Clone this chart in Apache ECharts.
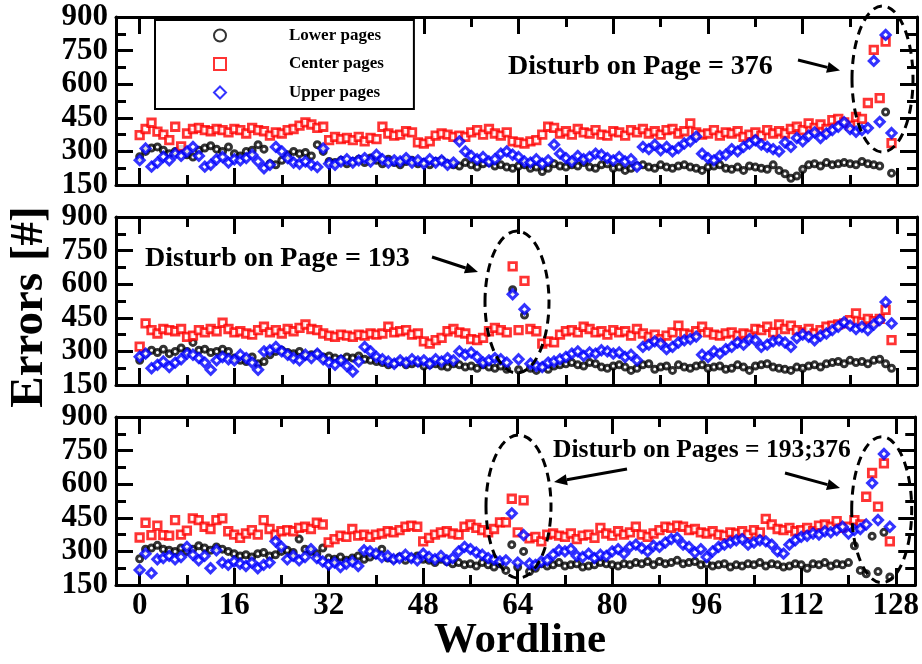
<!DOCTYPE html>
<html><head><meta charset="utf-8">
<script src="https://cdn.jsdelivr.net/npm/echarts@6/dist/echarts.min.js"></script>
<style>html,body{margin:0;padding:0;background:#fff}#c{width:922px;height:664px}</style>
</head><body><div id="c"></div>
<script>
const wordlines = [0,1,2,3,4,5,6,7,8,9,10,11,12,13,14,15,16,17,18,19,20,21,22,23,24,25,26,27,28,29,30,31,32,33,34,35,36,37,38,39,40,41,42,43,44,45,46,47,48,49,50,51,52,53,54,55,56,57,58,59,60,61,62,63,64,65,66,67,68,69,70,71,72,73,74,75,76,77,78,79,80,81,82,83,84,85,86,87,88,89,90,91,92,93,94,95,96,97,98,99,100,101,102,103,104,105,106,107,108,109,110,111,112,113,114,115,116,117,118,119,120,121,122,123,124,125,126,127];
const xTickLabels = [0,16,32,48,64,80,96,112,128];
const xMinorTicks = [8,24,40,56,72,88,104,120];
const seriesNames = ['Lower pages','Center pages','Upper pages'];

// Panel 1: Disturb on Page = 376
const p1Lower = [276,300,315,320,305,290,300,310, 285,275,305,315,325,310,300,320, 290,280,300,305,330,310,245,240, 260,285,300,290,295,280,330,300,
  255,250,260,245,255,265,250,270, 260,245,265,250,240,255,260,245, 250,240,255,260,245,240,235,250, 240,230,245,250,235,240,230,225,
  235,240,225,230,210,225,245,235, 230,240,235,250,230,225,240,245, 225,230,215,225,235,240,230,225, 240,230,225,235,240,230,225,215,
  230,235,240,225,220,230,215,235, 230,225,220,240,215,200,180,190, 220,240,245,235,250,240,245,250, 245,240,255,245,240,235,476,203];
const p1Center = [373,400,428,388,375,350,410,322, 380,400,405,395,390,400,395,385, 400,395,380,405,395,390,370,385, 380,395,400,415,430,420,405,410,
  350,365,355,360,350,365,345,360, 355,410,380,370,375,390,385,340, 335,345,370,380,375,365,370,365, 385,395,375,400,380,370,385,345,
  340,335,345,350,375,410,405,380, 390,375,400,385,380,395,375,370, 390,385,370,395,385,400,380,390, 375,395,400,380,390,425,385,375,
  380,395,370,385,380,390,365,375, 385,370,395,380,390,380,400,410, 395,425,405,420,400,440,445,430, 415,454,445,516,753,538,790,337];
const p1Upper = [261,313,232,250,276,260,290,280, 300,320,280,232,240,265,275,250, 265,260,270,285,255,225,240,320, 300,270,250,245,255,240,230,313,
  245,240,255,265,250,260,270,255, 285,265,250,260,255,270,250,260, 245,265,250,260,240,250,345,300, 280,265,275,255,265,290,300,285,
  275,255,250,265,245,260,330,290, 270,255,280,265,275,290,285,270, 260,275,255,265,232,320,310,330, 305,320,300,315,335,345,366,290,
  270,260,280,285,310,300,320,335, 350,330,320,310,300,340,320,360, 345,370,385,360,380,395,410,430, 400,388,395,404,704,432,820,382];

// Panel 2: Disturb on Page = 193
const p2Lower = [260,290,305,295,310,290,300,315, 300,340,305,310,295,300,310,300, 270,260,255,275,245,255,285,300, 305,295,290,300,280,285,290,275,
  280,270,265,275,270,280,265,260, 255,250,240,245,255,240,245,250, 235,240,245,235,230,245,240,230, 235,225,240,230,225,235,220,575,
  218,462,225,215,230,220,235,240, 245,250,240,235,250,245,230,225, 235,240,230,215,225,240,245,220, 230,235,215,240,230,225,235,240,
  225,230,235,220,225,240,230,215, 235,240,245,230,225,220,215,230, 225,235,240,230,245,250,255,245, 260,250,255,245,260,265,245,225];
const p2Center = [321,425,395,380,400,395,390,400, 365,370,395,385,400,390,428,400, 385,390,380,375,395,410,385,395, 380,400,390,405,420,400,395,380,
  370,365,375,370,365,375,370,380, 375,380,410,385,390,395,375,380, 345,335,350,360,390,400,385,380, 355,350,360,390,405,395,385,680,
  395,615,400,390,335,345,340,375, 390,395,385,410,400,385,390,375, 395,385,390,370,400,380,365,375, 355,370,385,415,380,375,390,410,
  385,375,370,380,385,370,380,375, 400,395,410,385,420,400,415,395, 385,400,380,395,410,415,420,425, 440,470,430,445,435,445,485,350];
const p2Upper = [276,290,225,240,255,230,250,265, 290,285,270,250,218,260,275,265, 260,285,270,250,218,300,305,320, 300,285,270,260,285,270,290,265,
  250,240,260,235,210,255,320,300, 275,265,255,245,260,250,265,255, 260,245,265,255,270,260,300,285, 295,275,250,260,270,265,250,555,
  265,488,245,235,230,250,255,265, 275,290,300,280,295,290,305,300, 290,295,275,285,260,320,330,345, 335,310,320,340,350,355,366,285,
  275,300,290,310,320,340,330,355, 350,320,330,345,350,340,320,360, 375,365,350,370,380,395,410,430, 415,400,410,395,420,440,520,425];

// Panel 3: Disturb on Pages = 193;376
const p3Lower = [267,310,315,327,310,305,300,315, 300,310,325,315,305,320,310,300, 290,280,285,275,290,295,280,285, 300,305,295,355,310,300,290,315,
  270,265,275,260,270,280,265,275, 285,310,270,265,275,260,270,280, 265,260,250,265,255,245,250,240, 245,235,250,240,230,245,215,330,
  230,300,210,225,245,235,240,250, 235,240,245,230,235,240,250,245, 240,235,245,240,250,245,255,240, 255,245,250,260,245,250,255,240,
  245,235,240,245,230,240,235,245, 240,250,235,245,240,230,235,245, 240,225,245,240,250,235,245,240, 250,325,215,200,368,210,385,186];
const p3Center = [362,428,373,415,373,370,440,375, 393,447,440,410,400,440,447,390, 375,360,380,395,375,440,400,375, 390,395,390,405,410,400,428,420,
  340,355,370,365,400,370,375,365, 375,380,390,385,395,410,415,410, 345,360,375,385,390,380,375,410, 420,405,395,385,400,430,430,535,
  385,528,358,365,345,375,380,370, 365,380,355,370,375,360,405,380, 370,390,375,385,410,375,365,380, 395,410,405,415,410,395,400,385,
  380,390,375,370,385,380,390,375, 395,385,445,420,400,395,405,390, 395,405,390,415,420,410,435,405, 410,440,420,544,650,500,693,345];
const p3Upper = [217,290,203,265,270,280,265,275, 320,285,260,280,225,305,250,240, 255,245,235,250,225,240,250,345, 320,265,280,260,275,310,270,255,
  240,250,230,245,255,235,305,300, 290,275,280,265,270,285,270,260, 290,275,265,280,260,270,300,320, 310,295,285,270,265,255,260,470,
  250,373,245,240,255,260,285,305, 300,310,280,275,290,270,285,280, 300,310,290,320,330,315,300,325, 320,340,355,360,330,320,295,310,
  275,300,320,330,340,350,355,330, 340,350,345,330,300,290,330,350, 365,370,380,375,390,385,395,410, 380,395,400,420,605,440,735,410];

const panels = [[p1Lower,p1Center,p1Upper],[p2Lower,p2Center,p2Upper],[p3Lower,p3Center,p3Upper]];

const FONT = "'Liberation Serif','Times New Roman',serif";
const GRID_LEFT = 116, GRID_W = 801, GRID_H = 168;
const gridTops = [17, 217, 417];
const XMIN = -4, XMAX = 131.3;

const grids = [], xAxes = [], yAxes = [], series = [];
const lineStyle = {color:'#000', width:3};
const styles = [
  {symbol:'circle', size:6, color:'#000', bw:3},
  {symbol:'rect', size:7.5, color:'#ff0000', bw:2.8},
  {symbol:'diamond', size:9, color:'#0000ff', bw:3.1}
];
gridTops.forEach((top, gi) => {
  grids.push({left: GRID_LEFT, top: top, width: GRID_W, height: GRID_H, containLabel:false});
  const base = {type:'value', gridIndex: gi, min: XMIN, max: XMAX, splitLine:{show:false}};
  xAxes.push(Object.assign({}, base, {position:'bottom',
    axisLine:{show:true, onZero:false, lineStyle},
    axisTick:{show:true, inside:true, length:17, lineStyle, customValues: xTickLabels},
    axisLabel:{show: gi===2, customValues: xTickLabels, margin:5, color:'#000', fontFamily:FONT, fontWeight:'bold', fontSize:31}}));
  xAxes.push(Object.assign({}, base, {position:'bottom',
    axisLine:{show:false, onZero:false},
    axisTick:{show:true, inside:true, length:10, lineStyle, customValues: xMinorTicks},
    axisLabel:{show:false}}));
  xAxes.push(Object.assign({}, base, {position:'top',
    axisLine:{show:true, onZero:false, lineStyle},
    axisTick:{show:true, inside:true, length:17, lineStyle, customValues: xTickLabels},
    axisLabel:{show:false}}));
  xAxes.push(Object.assign({}, base, {position:'top',
    axisLine:{show:false, onZero:false},
    axisTick:{show:true, inside:true, length:10, lineStyle, customValues: xMinorTicks},
    axisLabel:{show:false}}));
  const ybase = {type:'value', gridIndex: gi, min:150, max:900, interval:150, splitLine:{show:false},
    axisLine:{show:true, onZero:false, lineStyle},
    axisTick:{show:true, inside:true, length:17, lineStyle},
    minorTick:{show:true, splitNumber:2, length:10, lineStyle}};
  yAxes.push(Object.assign({}, ybase, {position:'left',
    axisLabel:{show:true, margin:8, color:'#000', fontFamily:FONT, fontWeight:'bold', fontSize:31}}));
  yAxes.push(Object.assign({}, ybase, {position:'right', axisLabel:{show:false}}));

  panels[gi].forEach((arr, si) => {
    const st = styles[si];
    series.push({
      type:'scatter', name: seriesNames[si], xAxisIndex: gi*4, yAxisIndex: gi*2,
      data: wordlines.map((w,i)=>[w, arr[i]]),
      symbol: st.symbol, symbolSize: st.size,
      itemStyle:{color:'#fff', borderColor: st.color, borderWidth: st.bw},
      z: 2 + si, silent:true
    });
  });
});

function arrow(x1,y1,x2,y2){
  const dx=x2-x1, dy=y2-y1, L=Math.hypot(dx,dy), ux=dx/L, uy=dy/L;
  const hl=13, hw=5.5;
  const bx=x2-ux*hl, by=y2-uy*hl;
  return [
    {type:'line', shape:{x1:x1,y1:y1,x2:bx,y2:by}, style:{stroke:'#000', lineWidth:3}, z:100},
    {type:'polygon', shape:{points:[[x2,y2],[bx-uy*hw,by+ux*hw],[bx+uy*hw,by-ux*hw]]}, style:{fill:'#000'}, z:100}
  ];
}
function ell(cx,cy,rx,ry){
  return {type:'ellipse', shape:{cx,cy,rx,ry}, style:{fill:null, stroke:'#000', lineWidth:3, lineDash:[9,6]}, z:100};
}
function txt(x,y,t,fs,align){
  return {type:'text', x:x, y:y, style:{text:t, fill:'#000', font:'bold '+fs+'px '+FONT, textAlign:align||'left', textVerticalAlign:'middle'}, z:100};
}

const graphic = [].concat(
  [txt(508,66.5,'Disturb on Page = 376',28)], arrow(798,60,840,70.5), [ell(882.5,79,30.5,73)],
  [txt(145,259,'Disturb on Page = 193',28)], arrow(432,257,478,272), [ell(517,302,32,71)],
  [txt(553,450.5,'Disturb on Pages = 193;376',25.5)], arrow(627,469,554,482), arrow(785,473,840,488),
  [ell(518.5,506.5,32.5,71.5), ell(881.7,509.7,30,73)],
  [txt(520,641,'Wordline',43,'center')],
  [{type:'text', x:30, y:307, rotation:Math.PI/2, style:{text:'Errors [#]', fill:'#000', font:'bold 47px '+FONT, textAlign:'center', textVerticalAlign:'middle'}, z:100}]
);

const chart = echarts.init(document.getElementById('c'), null, {renderer:'canvas'});
chart.setOption({
  animation:false,
  backgroundColor:'#fff',
  grid: grids, xAxis: xAxes, yAxis: yAxes, series: series,
  legend:{show:true, data: seriesNames, orient:'vertical', left:155, top:20,
    padding:[7,30,8,58], itemGap:11.5, itemWidth:12, itemHeight:12,
    borderColor:'#000', borderWidth:2, backgroundColor:'#fff',
    textStyle:{color:'#000', fontFamily:FONT, fontWeight:'bold', fontSize:17, padding:[0,0,0,58]},
    selectedMode:false, z:50},
  graphic: graphic
});
</script></body></html>
